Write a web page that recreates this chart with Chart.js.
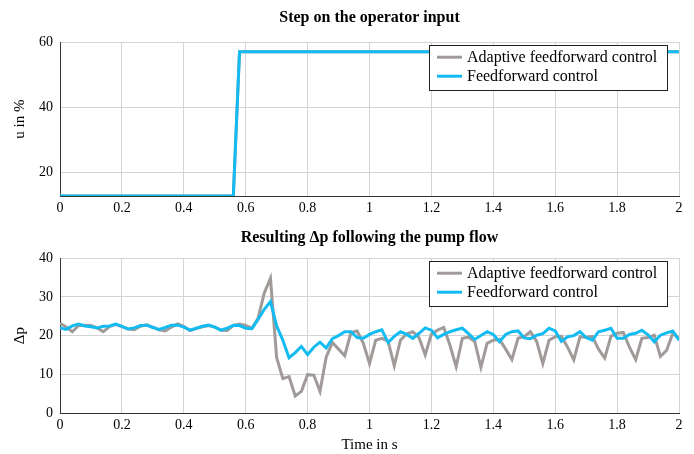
<!DOCTYPE html>
<html>
<head>
<meta charset="utf-8">
<title>Step on the operator input</title>
<script src="https://cdn.jsdelivr.net/npm/chart.js@4.4.1/dist/chart.umd.min.js"></script>
<style>
  html, body { margin: 0; padding: 0; background: #fff; }
  canvas { display: block; }
</style>
</head>
<body>
<canvas id="inputChart" width="694" height="226"></canvas>
<canvas id="pressureChart" width="694" height="228"></canvas>
<script>
// operator input u (both controllers get the same step)
const uTime = [0, 0.56, 0.58, 2];
const uAdaptive = [12.8, 12.8, 57.1, 57.1];
const uFeedforward = [12.8, 12.8, 57.1, 57.1];

// delta p, sampled every 0.02 s
const time = [
  0, 0.02, 0.04, 0.06, 0.08, 0.1, 0.12, 0.14, 0.16, 0.18,
  0.2, 0.22, 0.24, 0.26, 0.28, 0.3, 0.32, 0.34, 0.36, 0.38,
  0.4, 0.42, 0.44, 0.46, 0.48, 0.5, 0.52, 0.54, 0.56, 0.58,
  0.6, 0.62, 0.64, 0.66, 0.68, 0.7, 0.72, 0.74, 0.76, 0.78,
  0.8, 0.82, 0.84, 0.86, 0.88, 0.9, 0.92, 0.94, 0.96, 0.98,
  1, 1.02, 1.04, 1.06, 1.08, 1.1, 1.12, 1.14, 1.16, 1.18,
  1.2, 1.22, 1.24, 1.26, 1.28, 1.3, 1.32, 1.34, 1.36, 1.38,
  1.4, 1.42, 1.44, 1.46, 1.48, 1.5, 1.52, 1.54, 1.56, 1.58,
  1.6, 1.62, 1.64, 1.66, 1.68, 1.7, 1.72, 1.74, 1.76, 1.78,
  1.8, 1.82, 1.84, 1.86, 1.88, 1.9, 1.92, 1.94, 1.96, 1.98,
  2
];
const dpAdaptive = [
  23.2, 22.2, 21.0, 22.6, 22.7, 22.6, 22.0, 21.0, 22.3, 22.9,
  22.3, 21.7, 21.5, 22.4, 22.8, 22.2, 21.5, 21.2, 22.2, 23.0,
  22.4, 21.3, 21.8, 22.3, 22.6, 22.2, 21.4, 21.3, 22.6, 23.0,
  22.6, 21.9, 24.5, 31.0, 34.8, 14.3, 8.9, 9.4, 4.4, 5.6,
  9.9, 9.8, 5.6, 14.4, 18.2, 16.5, 14.8, 20.8, 21.2, 18.0,
  12.8, 18.8, 19.3, 18.6, 12.2, 18.8, 20.4, 21.0, 19.5, 15.0,
  20.4, 21.4, 22.1, 17.5, 12.0, 19.3, 19.6, 18.5, 11.8, 18.0,
  18.8, 19.0, 16.5, 13.8, 19.3, 19.8, 21.0, 18.5, 12.8, 18.8,
  19.7, 19.8, 17.0, 13.7, 19.7, 19.6, 19.8, 16.5, 14.2, 19.8,
  20.6, 20.8, 17.0, 13.8, 19.3, 19.5, 20.1, 14.6, 16.2, 20.6,
  19.3
];
const dpFeedforward = [
  22.0, 21.6, 22.5, 23.0, 22.5, 22.3, 22.0, 22.4, 22.5, 23.0,
  22.4, 21.7, 22.0, 22.6, 22.7, 22.1, 21.6, 22.1, 22.7, 22.7,
  22.2, 21.4, 21.9, 22.4, 22.7, 22.2, 21.4, 21.9, 22.7, 22.6,
  21.9, 21.8, 24.2, 26.8, 28.8, 22.5, 18.8, 14.3, 15.6, 17.2,
  15.1, 17.0, 18.3, 16.8, 19.2, 20.0, 21.0, 21.0, 19.5, 19.3,
  20.3, 21.0, 21.5, 18.2, 19.8, 21.0, 20.3, 19.3, 20.6, 22.0,
  21.4, 19.4, 20.3, 21.0, 21.5, 21.9, 20.5, 19.0, 20.0, 21.0,
  20.3, 18.4, 20.3, 21.0, 21.2, 19.4, 19.2, 20.1, 20.5, 21.9,
  21.2, 18.5, 19.7, 20.0, 21.0, 19.5, 18.8, 21.0, 21.4, 21.9,
  19.3, 19.3, 20.3, 20.6, 21.4, 20.2, 18.4, 20.1, 20.7, 21.2,
  18.8
];

const seriesNames = ["Adaptive feedforward control", "Feedforward control"];
const grayColor = "#a09b99";
const blueColor = "#12bcf2";
const serif = "'Liberation Serif', 'DejaVu Serif', serif";

function toPoints(xs, ys) {
  return xs.map((x, i) => ({ x: x, y: ys[i] }));
}

// legend box drawn inside the plot, top right
const insideLegend = {
  id: "insideLegend",
  afterDatasetsDraw(chart) {
    const { ctx, chartArea } = chart;
    const x0 = chartArea.right - 250;
    const w = 238;
    const top = chartArea.top + 3;
    const h = 45;
    ctx.save();
    ctx.fillStyle = "#fff";
    ctx.fillRect(x0, top, w, h);
    ctx.strokeStyle = "#222";
    ctx.lineWidth = 1;
    ctx.strokeRect(Math.round(x0) + 0.5, Math.round(top) + 0.5, w, h);
    ctx.font = "16px " + serif;
    ctx.textBaseline = "middle";
    chart.data.datasets.forEach((ds, i) => {
      const y = top + 12 + i * 19;
      ctx.strokeStyle = ds.borderColor;
      ctx.lineWidth = 3;
      ctx.beginPath();
      ctx.moveTo(x0 + 8, y);
      ctx.lineTo(x0 + 33, y);
      ctx.stroke();
      ctx.fillStyle = "#000";
      ctx.fillText(ds.label, x0 + 38, y + 1);
    });
    ctx.restore();
  },
};

function timeTick(v) {
  return String(+Number(v).toFixed(1));
}

function makeOptions(titleText, titlePad, yCfg, xTitle, xHeight) {
  return {
    responsive: false,
    animation: false,
    layout: { padding: { left: 0, right: 15, top: 0, bottom: 0 } },
    plugins: {
      legend: { display: false },
      tooltip: { enabled: false },
      title: {
        display: true,
        fullSize: false,
        text: titleText,
        color: "#000",
        font: { family: serif, size: 16, weight: "bold" },
        padding: titlePad,
      },
    },
    scales: {
      x: {
        type: "linear",
        min: 0,
        max: 2,
        ticks: {
          stepSize: 0.2,
          color: "#000",
          font: { family: serif, size: 14 },
          padding: 4,
          maxRotation: 0,
          callback: timeTick,
        },
        grid: { color: "#d4d4d4", drawTicks: false },
        border: { color: "#333" },
        title: {
          display: !!xTitle,
          text: xTitle || "",
          color: "#000",
          font: { family: serif, size: 15 },
          padding: { top: 0, bottom: 0 },
        },
        afterFit(scale) {
          scale.height = xHeight;
        },
      },
      y: {
        min: yCfg.min,
        max: yCfg.max,
        ticks: {
          stepSize: yCfg.step,
          includeBounds: false,
          color: "#000",
          font: { family: serif, size: 14 },
          padding: 7,
        },
        grid: { color: "#d4d4d4", drawTicks: false },
        border: { color: "#333" },
        title: {
          display: true,
          text: yCfg.title,
          color: "#000",
          font: { family: serif, size: 15 },
          padding: { top: 11, bottom: 0 },
        },
        afterFit(scale) {
          scale.width = 60;
        },
      },
    },
  };
}

function lineDataset(label, color, points, order) {
  return {
    label: label,
    data: points,
    borderColor: color,
    backgroundColor: color,
    borderWidth: 3,
    pointRadius: 0,
    tension: 0,
    fill: false,
    order: order,
  };
}

new Chart(document.getElementById("inputChart").getContext("2d"), {
  type: "line",
  data: {
    datasets: [
      lineDataset(seriesNames[0], grayColor, toPoints(uTime, uAdaptive), 2),
      lineDataset(seriesNames[1], blueColor, toPoints(uTime, uFeedforward), 1),
    ],
  },
  options: makeOptions(
    "Step on the operator input",
    { top: 8, bottom: 15 },
    { min: 12.8, max: 60, step: 20, title: "u in %" },
    null,
    30
  ),
  plugins: [insideLegend],
});

new Chart(document.getElementById("pressureChart").getContext("2d"), {
  type: "line",
  data: {
    datasets: [
      lineDataset(seriesNames[0], grayColor, toPoints(time, dpAdaptive), 2),
      lineDataset(seriesNames[1], blueColor, toPoints(time, dpFeedforward), 1),
    ],
  },
  options: makeOptions(
    "Resulting \u0394p following the pump flow",
    { top: 2, bottom: 11 },
    { min: 0, max: 40, step: 10, title: "\u0394p" },
    "Time in s",
    41
  ),
  plugins: [insideLegend],
});
</script>
</body>
</html>
